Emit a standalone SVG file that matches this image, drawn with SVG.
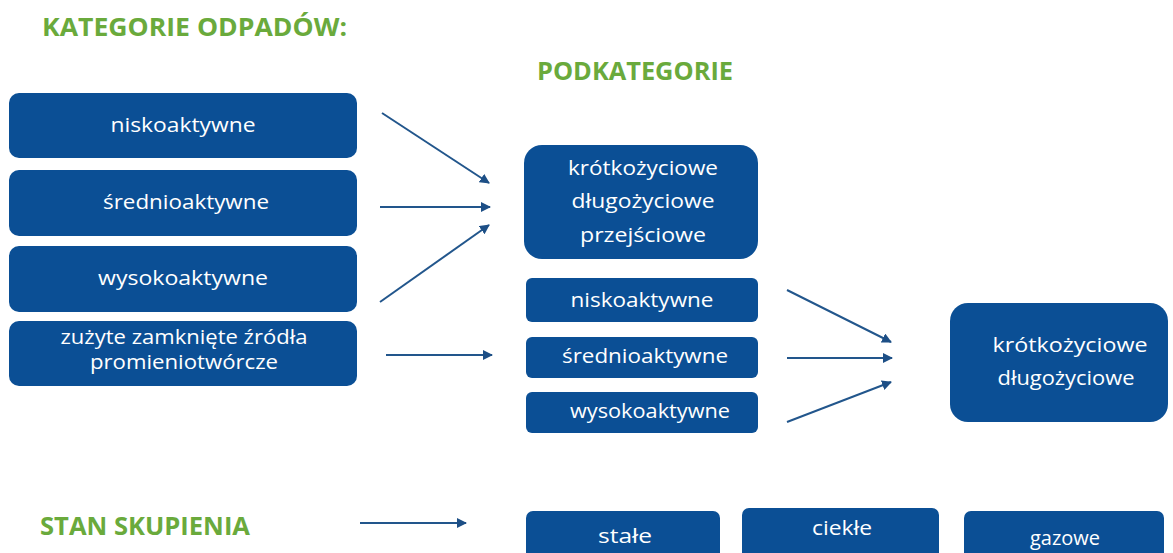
<svg xmlns="http://www.w3.org/2000/svg" width="1173" height="553" viewBox="0 0 1173 553">
  <style>
    .title { font-family: "Open Sans", "Liberation Sans", sans-serif; font-weight: bold; fill: #6aaa3c; }
    .box { fill: #0b4f95; }
    .lbl { font-family: "Open Sans", "Liberation Sans", sans-serif; font-size: 19.5px; fill: #ffffff; text-anchor: middle; }
    .conn { stroke: #22568c; stroke-width: 2; fill: none; marker-end: url(#head); }
  </style>
  <defs>
    <marker id="head" viewBox="0 0 10 10" refX="9" refY="5" markerWidth="5" markerHeight="5" orient="auto" markerUnits="strokeWidth">
      <path d="M0,0 L10,5 L0,10 z" fill="#1d4f86"/>
    </marker>
  </defs>

  <rect width="1173" height="553" fill="#ffffff"/>

  <!-- headings -->
  <text class="title" x="42" y="36" font-size="25" textLength="305" lengthAdjust="spacingAndGlyphs">KATEGORIE ODPADÓW:</text>
  <text class="title" x="537" y="80" font-size="25" textLength="196" lengthAdjust="spacingAndGlyphs">PODKATEGORIE</text>
  <text class="title" x="40" y="535" font-size="25" textLength="210" lengthAdjust="spacingAndGlyphs">STAN SKUPIENIA</text>

  <!-- waste categories -->
  <g id="cat-nisko">
    <rect class="box" x="9" y="93" width="348" height="65" rx="10"/>
    <text class="lbl" x="183" y="132" textLength="145" lengthAdjust="spacingAndGlyphs">niskoaktywne</text>
  </g>
  <g id="cat-srednio">
    <rect class="box" x="9" y="170" width="348" height="66" rx="10"/>
    <text class="lbl" x="186" y="209" textLength="166" lengthAdjust="spacingAndGlyphs">średnioaktywne</text>
  </g>
  <g id="cat-wysoko">
    <rect class="box" x="9" y="246" width="348" height="66" rx="10"/>
    <text class="lbl" x="183" y="285" textLength="170" lengthAdjust="spacingAndGlyphs">wysokoaktywne</text>
  </g>
  <g id="cat-zrodla">
    <rect class="box" x="9" y="321" width="348" height="65" rx="10"/>
    <text class="lbl" x="184" y="344" textLength="247" lengthAdjust="spacingAndGlyphs">zużyte zamknięte źródła</text>
    <text class="lbl" x="184" y="369" textLength="188" lengthAdjust="spacingAndGlyphs">promieniotwórcze</text>
  </g>

  <!-- subcategories -->
  <g id="sub-czas">
    <rect class="box" x="524" y="145" width="234" height="114" rx="18"/>
    <text class="lbl" x="643" y="175" textLength="150" lengthAdjust="spacingAndGlyphs">krótkożyciowe</text>
    <text class="lbl" x="643" y="208" textLength="143" lengthAdjust="spacingAndGlyphs">długożyciowe</text>
    <text class="lbl" x="643" y="242" textLength="126" lengthAdjust="spacingAndGlyphs">przejściowe</text>
  </g>
  <g id="sub-nisko">
    <rect class="box" x="526" y="278" width="232" height="44" rx="6"/>
    <text class="lbl" x="642" y="307" textLength="143" lengthAdjust="spacingAndGlyphs">niskoaktywne</text>
  </g>
  <g id="sub-srednio">
    <rect class="box" x="526" y="337" width="232" height="41" rx="6"/>
    <text class="lbl" x="645" y="363" textLength="166" lengthAdjust="spacingAndGlyphs">średnioaktywne</text>
  </g>
  <g id="sub-wysoko">
    <rect class="box" x="526" y="392" width="232" height="41" rx="6"/>
    <text class="lbl" x="650" y="418" textLength="160" lengthAdjust="spacingAndGlyphs">wysokoaktywne</text>
  </g>

  <!-- final grouping -->
  <g id="final">
    <rect class="box" x="950" y="303" width="218" height="119" rx="18"/>
    <text class="lbl" x="1070" y="352" textLength="155" lengthAdjust="spacingAndGlyphs">krótkożyciowe</text>
    <text class="lbl" x="1066" y="385" textLength="137" lengthAdjust="spacingAndGlyphs">długożyciowe</text>
  </g>

  <!-- physical state -->
  <g id="state-stale">
    <rect class="box" x="526" y="511" width="194" height="50" rx="7"/>
    <text class="lbl" x="625" y="543" textLength="54" lengthAdjust="spacingAndGlyphs">stałe</text>
  </g>
  <g id="state-ciekle">
    <rect class="box" x="742" y="508" width="197" height="53" rx="7"/>
    <text class="lbl" x="842" y="535" textLength="60" lengthAdjust="spacingAndGlyphs">ciekłe</text>
  </g>
  <g id="state-gazowe">
    <rect class="box" x="964" y="511" width="200" height="50" rx="7"/>
    <text class="lbl" x="1065" y="545" textLength="70" lengthAdjust="spacingAndGlyphs">gazowe</text>
  </g>

  <!-- connectors -->
  <g id="connectors">
    <line class="conn" x1="382" y1="113" x2="489" y2="183"/>
    <line class="conn" x1="380" y1="207" x2="490" y2="207"/>
    <line class="conn" x1="380" y1="302" x2="489" y2="225"/>
    <line class="conn" x1="386" y1="355" x2="492" y2="355"/>
    <line class="conn" x1="787" y1="290" x2="891" y2="342"/>
    <line class="conn" x1="787" y1="358" x2="892" y2="358"/>
    <line class="conn" x1="787" y1="422" x2="891" y2="382"/>
    <line class="conn" x1="360" y1="523" x2="466" y2="523"/>
  </g>
</svg>
